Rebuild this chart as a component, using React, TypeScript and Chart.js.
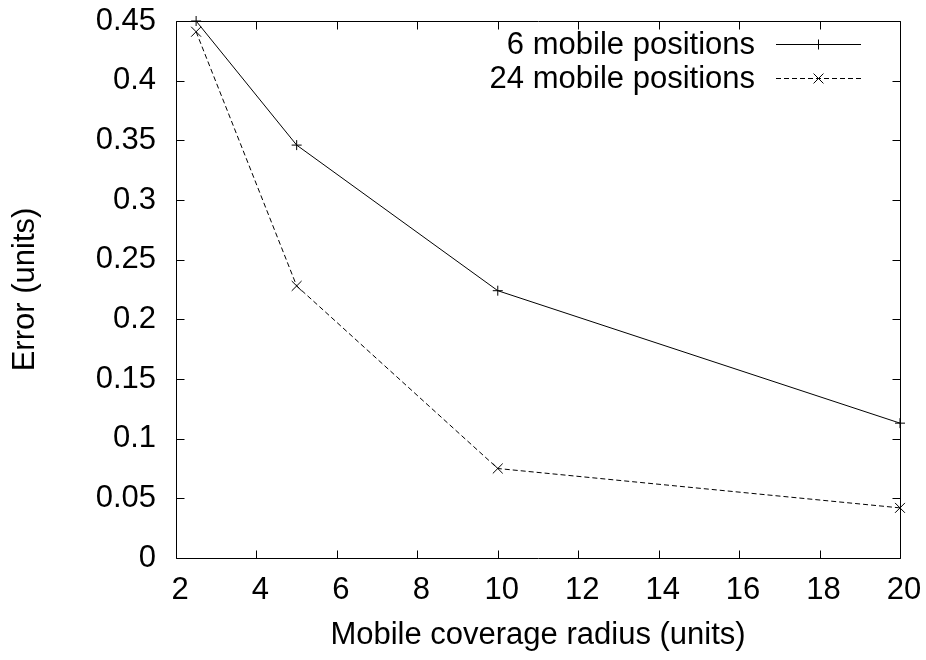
import React, { useEffect, useRef } from 'react';
import { Chart, registerables } from 'chart.js';

Chart.register(...registerables);

const xValues = [2.5, 5, 10, 20];
const sixPositions = [0.45, 0.346, 0.224, 0.113];
const twentyFourPositions = [0.441, 0.228, 0.075, 0.042];
const seriesLabels = ['6 mobile positions', '24 mobile positions'];
const xTicks = [2, 4, 6, 8, 10, 12, 14, 16, 18, 20];
const yTicks = [0, 0.05, 0.1, 0.15, 0.2, 0.25, 0.3, 0.35, 0.4, 0.45];
const yTickLabels = ['0', '0.05', '0.1', '0.15', '0.2', '0.25', '0.3', '0.35', '0.4', '0.45'];
const xTitle = 'Mobile coverage radius (units)';
const yTitle = 'Error (units)';

const FONT = '"Liberation Sans", Arial, Helvetica, sans-serif';
const FSIZE = 31;

function drawMarker(ctx: CanvasRenderingContext2D, style: string, x: number, y: number, r: number) {
  ctx.beginPath();
  if (style === 'cross') {
    ctx.moveTo(x - r, y);
    ctx.lineTo(x + r, y);
    ctx.moveTo(x, y - r);
    ctx.lineTo(x, y + r);
  } else {
    const d = r * Math.SQRT1_2;
    ctx.moveTo(x - d, y - d);
    ctx.lineTo(x + d, y + d);
    ctx.moveTo(x - d, y + d);
    ctx.lineTo(x + d, y - d);
  }
  ctx.stroke();
}

const framePlugin = {
  id: 'gnuplotFrame',
  afterDraw(chart: any) {
    const ctx: CanvasRenderingContext2D = chart.ctx;
    const { left, right, top, bottom } = chart.chartArea;
    const xs = chart.scales.x;
    const ys = chart.scales.y;
    const L = Math.round(left) + 0.5;
    const R = Math.round(right) + 0.5;
    const T = Math.round(top) + 0.5;
    const B = Math.round(bottom) + 0.5;
    const tl = 8;
    ctx.save();
    ctx.strokeStyle = '#000';
    ctx.lineWidth = 1;
    ctx.setLineDash([]);
    ctx.beginPath();
    ctx.rect(L, T, R - L, B - T);
    ctx.stroke();
    ctx.beginPath();
    xTicks.forEach((v) => {
      const px = Math.round(xs.getPixelForValue(v)) + 0.5;
      ctx.moveTo(px, B);
      ctx.lineTo(px, B - tl);
      ctx.moveTo(px, T);
      ctx.lineTo(px, T + tl);
    });
    yTicks.forEach((v) => {
      const py = Math.round(ys.getPixelForValue(v)) + 0.5;
      ctx.moveTo(L, py);
      ctx.lineTo(L + tl, py);
      ctx.moveTo(R, py);
      ctx.lineTo(R - tl, py);
    });
    ctx.stroke();

    // legend
    ctx.font = `${FSIZE}px ${FONT}`;
    ctx.fillStyle = '#000';
    ctx.textAlign = 'right';
    ctx.textBaseline = 'middle';
    const textRight = 755;
    const lineStart = 776;
    const lineEnd = 861;
    const rows = [44, 78];
    chart.data.datasets.forEach((ds: any, i: number) => {
      const y = rows[i];
      ctx.fillText(ds.label, textRight, y + 1);
      ctx.setLineDash(ds.borderDash || []);
      ctx.beginPath();
      ctx.moveTo(lineStart, y + 0.5);
      ctx.lineTo(lineEnd, y + 0.5);
      ctx.stroke();
      ctx.setLineDash([]);
      drawMarker(ctx, ds.pointStyle, (lineStart + lineEnd) / 2, y + 0.5, ds.pointRadius);
    });
    ctx.restore();
  },
};

export default function App() {
  const ref = useRef<HTMLCanvasElement | null>(null);
  useEffect(() => {
    if (!ref.current) return;
    const chart = new Chart(ref.current, {
      type: 'line',
      data: {
        datasets: [
          {
            label: seriesLabels[0],
            data: xValues.map((x, i) => ({ x, y: sixPositions[i] })),
            borderColor: '#000',
            backgroundColor: '#000',
            borderWidth: 1,
            pointStyle: 'cross',
            pointRadius: 5,
            pointBorderWidth: 1,
            pointBorderColor: '#000',
            fill: false,
            tension: 0,
            clip: false,
          },
          {
            label: seriesLabels[1],
            data: xValues.map((x, i) => ({ x, y: twentyFourPositions[i] })),
            borderColor: '#000',
            backgroundColor: '#000',
            borderWidth: 1,
            borderDash: [5, 3],
            pointStyle: 'crossRot',
            pointRadius: 7,
            pointBorderWidth: 1,
            pointBorderColor: '#000',
            fill: false,
            tension: 0,
            clip: false,
          },
        ],
      },
      options: {
        responsive: false,
        animation: false,
        devicePixelRatio: 1,
        layout: { padding: 0 },
        plugins: {
          legend: { display: false },
          tooltip: { enabled: false },
        },
        scales: {
          x: {
            type: 'linear',
            min: 2,
            max: 20,
            afterFit: (s: any) => {
              s.height = 102;
              s.paddingLeft = 0;
              s.paddingRight = 26;
            },
            afterBuildTicks: (s: any) => {
              s.ticks = xTicks.map((v) => ({ value: v }));
            },
            grid: { display: false, drawTicks: false },
            border: { display: false },
            ticks: {
              color: '#000',
              font: { family: FONT, size: FSIZE },
              padding: 14,
              labelOffset: 4,
              maxRotation: 0,
              autoSkip: false,
              callback: (v: any) => String(v),
            },
            title: {
              display: true,
              text: xTitle,
              color: '#000',
              font: { family: FONT, size: FSIZE },
              padding: { top: 0, bottom: 6 },
            },
          },
          y: {
            type: 'linear',
            min: 0,
            max: 0.45,
            afterFit: (s: any) => {
              s.width = 176;
              s.paddingTop = 21;
              s.paddingBottom = 0;
            },
            afterBuildTicks: (s: any) => {
              s.ticks = yTicks.map((v) => ({ value: v }));
            },
            grid: { display: false, drawTicks: false },
            border: { display: false },
            ticks: {
              color: '#000',
              font: { family: FONT, size: FSIZE },
              padding: 20,
              autoSkip: false,
              callback: (v: any) => {
                const idx = yTicks.findIndex((t) => Math.abs(t - v) < 1e-9);
                return idx >= 0 ? yTickLabels[idx] : '';
              },
            },
            title: {
              display: true,
              text: yTitle,
              color: '#000',
              font: { family: FONT, size: FSIZE },
              padding: { top: 7, bottom: 0 },
            },
          },
        },
      },
      plugins: [framePlugin],
    });
    return () => chart.destroy();
  }, []);
  return (
    <div style={{ position: 'fixed', left: 0, top: 0, width: 926, height: 660, background: '#fff' }}>
      <canvas ref={ref} width={926} height={660} style={{ width: 926, height: 660, display: 'block' }} />
    </div>
  );
}
